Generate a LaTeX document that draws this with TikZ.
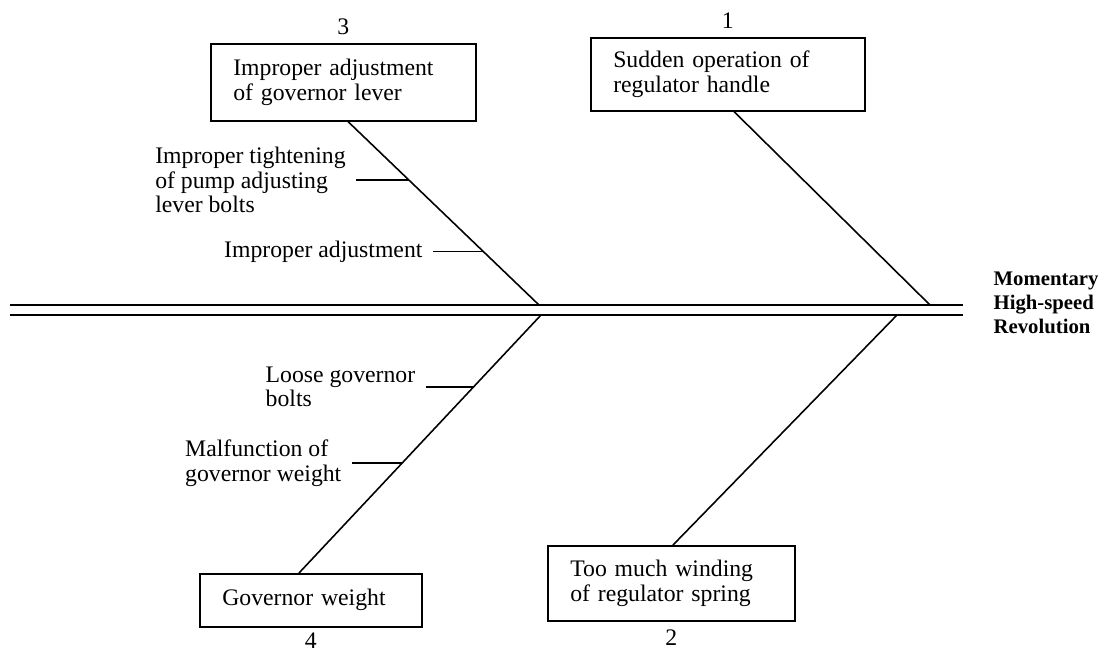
\documentclass[tikz,border=0pt]{standalone}
\usepackage{fontspec}
\setmainfont{Liberation Serif}
\usetikzlibrary{positioning}

\begin{document}
\begin{tikzpicture}[x=0.02cm,y=-0.02cm,line width=0.9pt,
  font=\fontsize{13.5}{14}\selectfont,
  causebox/.style={draw,anchor=north west,align=left,inner xsep=0.45cm},
  cause/.style={align=left,inner xsep=0.2cm,inner ysep=0pt},
  effect/.style={align=left,anchor=west,font=\fontsize{11.8}{13.6}\selectfont\bfseries}]
\useasboundingbox (0,0) rectangle (1104,653);

\node[causebox,text width=4.58cm,minimum height=1.46cm] (handle) at (590,37) {Sudden operation of\\regulator handle};
\node[causebox,text width=4.04cm,minimum height=1.5cm] (spring) at (547,545) {Too much winding\\of regulator spring};
\node[causebox,text width=4.4cm,minimum height=1.54cm] (lever) at (210,43) {Improper adjustment\\of governor lever};
\node[causebox,text width=3.54cm,minimum height=1.06cm] (weight) at (199,573) {Governor weight};

\node[above=1pt of handle] (num1) {1};
\node[below=1pt of spring] (num2) {2};
\node[above=1pt of lever] (num3) {3};
\node[below=-1pt of weight] (num4) {4};

% spine
\coordinate (tail) at (10,310);
\coordinate (head) at (963,310);
\draw[double,double distance=0.17cm] (tail) -- (head);
\node[effect] (effect) at (987,303) {Momentary\\High-speed\\Revolution};

\coordinate (j1) at (930,305);
\coordinate (j2) at (897,315);
\coordinate (j3) at (539,305);
\coordinate (j4) at (541,315);

% bones
\draw (j1) -- (734,0 |- handle.south);
\draw (j2) -- (673,0 |- spring.north);
\draw (j3) -- coordinate[pos=0.292] (k32) coordinate[pos=0.681] (k31) (348,0 |- lever.south);
\draw (j4) -- coordinate[pos=0.279] (k41) coordinate[pos=0.574] (k42) (299,0 |- weight.north);

\node[cause,left=1.05cm of k31] (tightening) {Improper tightening\\of pump adjusting\\lever bolts};
\node[cause,left=1cm of k32] (adjustment) {Improper adjustment};
\node[cause,left=0.95cm of k41] (bolts) {Loose governor\\bolts};
\node[cause,left=1cm of k42] (malfunction) {Malfunction of\\governor weight};

\draw (k31) -- (tightening);
\draw (k32) -- (adjustment);
\draw (k41) -- (bolts);
\draw (k42) -- (malfunction);
\end{tikzpicture}
\end{document}
